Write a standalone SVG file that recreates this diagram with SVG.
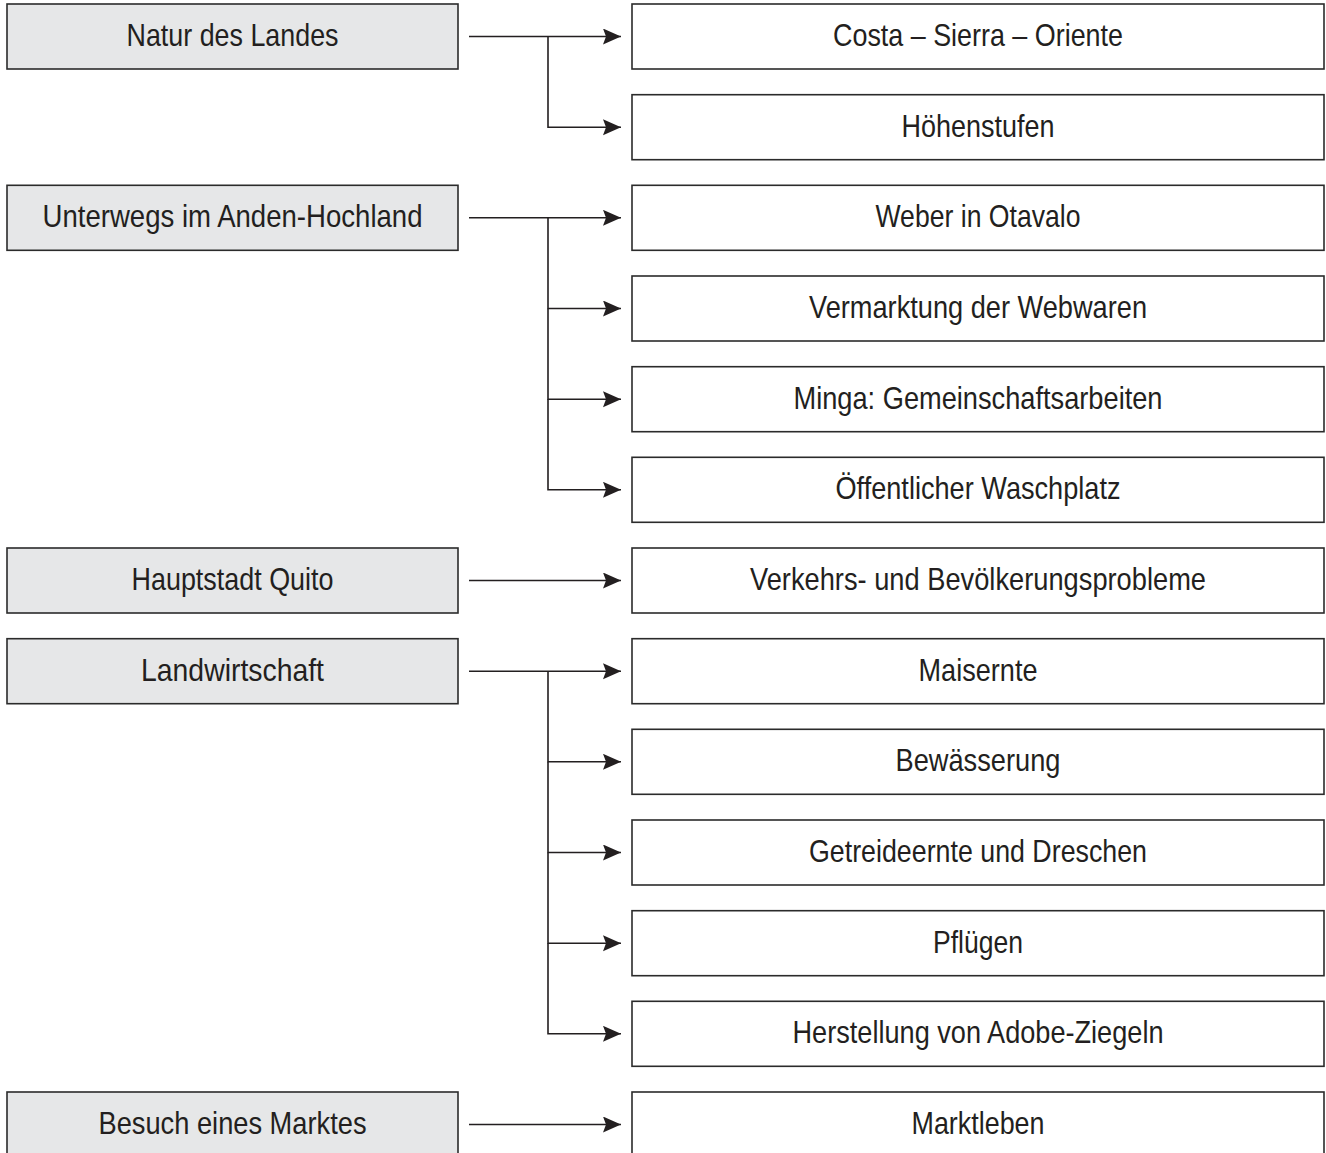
<svg xmlns="http://www.w3.org/2000/svg" width="1326" height="1153" viewBox="0 0 1326 1153">
<style>
.l{fill:#e6e7e8;stroke:#2b2b2b;stroke-width:1.6}
.r{fill:#ffffff;stroke:#2b2b2b;stroke-width:1.6}
text{font-family:"Liberation Sans",Arial,sans-serif;font-size:32px;fill:#231f20;text-anchor:middle}
.c{fill:none;stroke:#231f20;stroke-width:1.6}
</style>
<defs>
<marker id="a" markerUnits="userSpaceOnUse" markerWidth="20" markerHeight="18" refX="18" refY="8" orient="auto">
<path d="M0,0 L18,8 L0,16 L3,8 z" fill="#231f20"/>
</marker>
</defs>
<rect width="1326" height="1153" fill="#ffffff"/>
<g id="left-nodes">
<g id="n-natur"><rect class="l" x="7" y="4" width="451" height="65"/><text x="232.5" y="46" textLength="212" lengthAdjust="spacingAndGlyphs">Natur des Landes</text></g>
<g id="n-unterwegs"><rect class="l" x="7" y="185.3" width="451" height="65"/><text x="232.5" y="227.3" textLength="380" lengthAdjust="spacingAndGlyphs">Unterwegs im Anden-Hochland</text></g>
<g id="n-quito"><rect class="l" x="7" y="548" width="451" height="65"/><text x="232.5" y="590" textLength="202" lengthAdjust="spacingAndGlyphs">Hauptstadt Quito</text></g>
<g id="n-landwirtschaft"><rect class="l" x="7" y="638.7" width="451" height="65"/><text x="232.5" y="680.7" textLength="183" lengthAdjust="spacingAndGlyphs">Landwirtschaft</text></g>
<g id="n-markt"><rect class="l" x="7" y="1092" width="451" height="65"/><text x="232.5" y="1134" textLength="268" lengthAdjust="spacingAndGlyphs">Besuch eines Marktes</text></g>
</g>
<g id="right-nodes">
<g id="n-costa"><rect class="r" x="632" y="4" width="692" height="65"/><text x="978" y="46" textLength="290" lengthAdjust="spacingAndGlyphs">Costa – Sierra – Oriente</text></g>
<g id="n-hoehen"><rect class="r" x="632" y="94.7" width="692" height="65"/><text x="978" y="136.7" textLength="153" lengthAdjust="spacingAndGlyphs">Höhenstufen</text></g>
<g id="n-weber"><rect class="r" x="632" y="185.3" width="692" height="65"/><text x="978" y="227.3" textLength="205" lengthAdjust="spacingAndGlyphs">Weber in Otavalo</text></g>
<g id="n-vermarktung"><rect class="r" x="632" y="276" width="692" height="65"/><text x="978" y="318" textLength="338" lengthAdjust="spacingAndGlyphs">Vermarktung der Webwaren</text></g>
<g id="n-minga"><rect class="r" x="632" y="366.7" width="692" height="65"/><text x="978" y="408.7" textLength="369" lengthAdjust="spacingAndGlyphs">Minga: Gemeinschaftsarbeiten</text></g>
<g id="n-wasch"><rect class="r" x="632" y="457.3" width="692" height="65"/><text x="978" y="499.3" textLength="285" lengthAdjust="spacingAndGlyphs">Öffentlicher Waschplatz</text></g>
<g id="n-verkehr"><rect class="r" x="632" y="548" width="692" height="65"/><text x="978" y="590" textLength="456" lengthAdjust="spacingAndGlyphs">Verkehrs- und Bevölkerungsprobleme</text></g>
<g id="n-mais"><rect class="r" x="632" y="638.7" width="692" height="65"/><text x="978" y="680.7" textLength="119" lengthAdjust="spacingAndGlyphs">Maisernte</text></g>
<g id="n-bewaesserung"><rect class="r" x="632" y="729.3" width="692" height="65"/><text x="978" y="771.3" textLength="165" lengthAdjust="spacingAndGlyphs">Bewässerung</text></g>
<g id="n-getreide"><rect class="r" x="632" y="820" width="692" height="65"/><text x="978" y="862" textLength="338" lengthAdjust="spacingAndGlyphs">Getreideernte und Dreschen</text></g>
<g id="n-pfluegen"><rect class="r" x="632" y="910.7" width="692" height="65"/><text x="978" y="952.7" textLength="90" lengthAdjust="spacingAndGlyphs">Pflügen</text></g>
<g id="n-adobe"><rect class="r" x="632" y="1001.3" width="692" height="65"/><text x="978" y="1043.3" textLength="371" lengthAdjust="spacingAndGlyphs">Herstellung von Adobe-Ziegeln</text></g>
<g id="n-marktleben"><rect class="r" x="632" y="1092" width="692" height="65"/><text x="978" y="1134" textLength="133" lengthAdjust="spacingAndGlyphs">Marktleben</text></g>
</g>
<g id="connectors">
<path class="c" d="M469,36.5 H621" marker-end="url(#a)"/>
<path class="c" d="M548,36.5 V127.2 H621" marker-end="url(#a)"/>
<path class="c" d="M469,217.8 H621" marker-end="url(#a)"/>
<path class="c" d="M548,217.8 V308.5 H621" marker-end="url(#a)"/>
<path class="c" d="M548,308.5 V399.2 H621" marker-end="url(#a)"/>
<path class="c" d="M548,399.2 V489.8 H621" marker-end="url(#a)"/>
<path class="c" d="M469,580.5 H621" marker-end="url(#a)"/>
<path class="c" d="M469,671.2 H621" marker-end="url(#a)"/>
<path class="c" d="M548,671.2 V761.8 H621" marker-end="url(#a)"/>
<path class="c" d="M548,761.8 V852.5 H621" marker-end="url(#a)"/>
<path class="c" d="M548,852.5 V943.2 H621" marker-end="url(#a)"/>
<path class="c" d="M548,943.2 V1033.8 H621" marker-end="url(#a)"/>
<path class="c" d="M469,1124.5 H621" marker-end="url(#a)"/>
</g>
</svg>
